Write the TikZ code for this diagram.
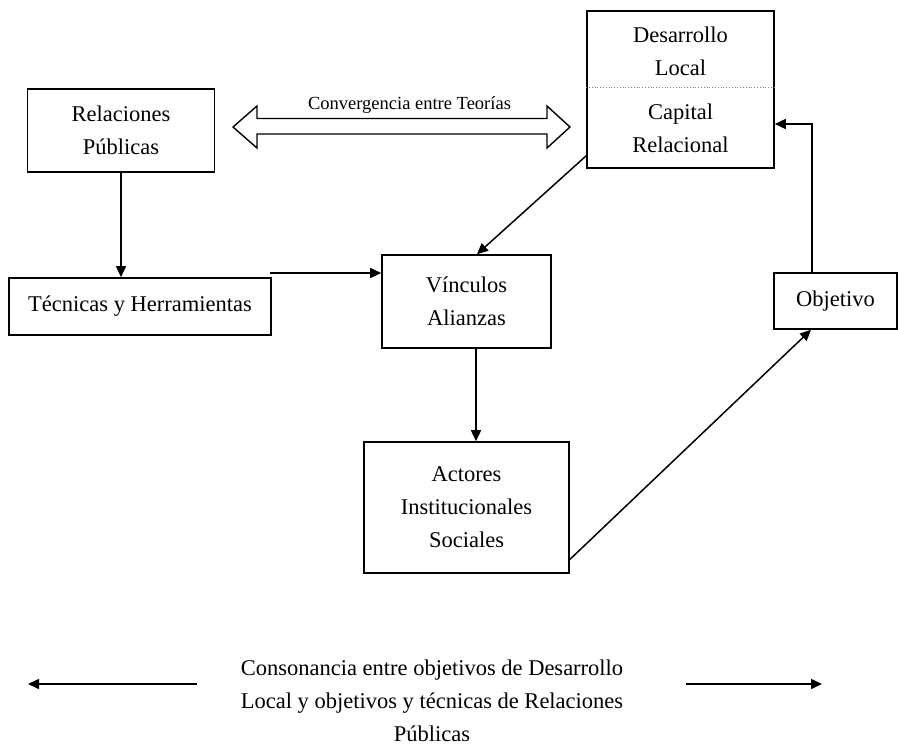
\documentclass[tikz,border=0pt]{standalone}
\usepackage{fontspec}
\setmainfont{Liberation Serif}
\usetikzlibrary{arrows.meta}
\begin{document}
\begin{tikzpicture}[x=1pt,y=-1pt,
  box/.style={draw, line width=1.6pt, rectangle, inner sep=0pt, align=center,
              font=\fontsize{22.5}{33}\selectfont},
  txt/.style={inner sep=0pt, align=center, font=\fontsize{22.5}{33}\selectfont},
  arr/.style={line width=1.5pt, -{Triangle[length=11pt,width=10pt]}}]
\useasboundingbox (0,0) rectangle (898,745);
% boxes
\node[box, minimum width=187, minimum height=83] (rp) at (121,130.5) {Relaciones\\Públicas};
\node[box, minimum width=187, minimum height=157] (dl) at (680.5,89.5) {};
\node[txt] (dltop) at (680.5,51.5) {Desarrollo\\Local};
\node[txt] (dlbot) at (680.5,128.5) {Capital\\Relacional};
\draw[dotted, line width=0.8pt, gray] (dl.west |- 0,87) -- (dl.east |- 0,87);
\node[box, minimum width=262, minimum height=57] (tec) at (140,306.5) {Técnicas y Herramientas};
\node[box, minimum width=169, minimum height=93] (vin) at (466.5,301.5) {Vínculos\\Alianzas};
\node[box, minimum width=205, minimum height=131] (act) at (466.5,507.5) {Actores\\Institucionales\\Sociales};
\node[box, minimum width=123, minimum height=56] (obj) at (835.5,301) {Objetivo};
% double block arrow
\draw[line width=1.4pt, line join=miter]
  (233,127) -- (257,106) -- (257,118.5) -- (547,118.5) -- (547,106) -- (570,127)
  -- (547,148) -- (547,134) -- (257,134) -- (257,148) -- cycle;
\node[inner sep=0pt, font=\fontsize{18.5}{22}\selectfont] (conv) at (409.5,105) {Convergencia entre Teorías};
% connectors
\draw[arr] (rp.south) -- (rp.south |- tec.north);
\coordinate (tecstart) at (270,273);
\draw[arr] (tecstart) -- (vin.west |- tecstart);
\draw[arr] ([yshift=13pt]dl.south west) -- ([xshift=10.5pt]vin.north);
\draw[arr] ([xshift=9.5pt]vin.south) -- ([xshift=9.5pt]act.north);
\draw[arr] ([yshift=-52pt]act.east) -- ([xshift=-24.5pt]obj.south);
\draw[arr] ([xshift=-23.5pt]obj.north) |- ([yshift=-34.5pt]dl.east);
% bottom
\node[txt] (cons) at (432,701) {Consonancia entre objetivos de Desarrollo\\Local y objetivos y técnicas de Relaciones\\Públicas};
\coordinate (la) at (197,684);
\coordinate (lb) at (28,684);
\coordinate (ra) at (686,684);
\coordinate (rb) at (822,684);
\draw[arr] (la) -- (lb);
\draw[arr] (ra) -- (rb);
\end{tikzpicture}
\end{document}
